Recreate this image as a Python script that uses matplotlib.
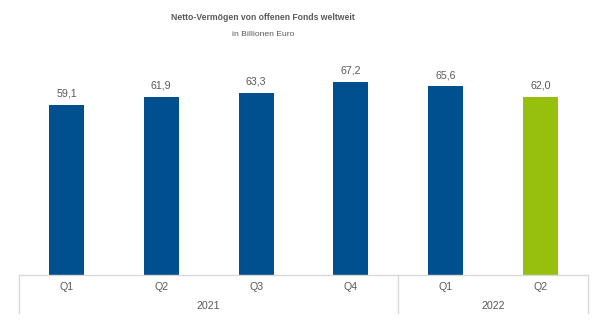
import matplotlib.pyplot as plt

# Data
quarters = ["Q1", "Q2", "Q3", "Q4", "Q1", "Q2"]
years = ["2021", "2022"]
year_spans = [(0, 3), (4, 5)]  # first and last bar index per year
values = [59.1, 61.9, 63.3, 67.2, 65.6, 62.0]
labels = ["59,1", "61,9", "63,3", "67,2", "65,6", "62,0"]

blue = "#00508F"
green = "#97BF0D"
text_col = "#595959"
line_col = "#D9D9D9"
colors = [blue] * 5 + [green]

plt.rcParams['font.family'] = ['Liberation Sans', 'DejaVu Sans']

fig = plt.figure(figsize=(6, 3.31), dpi=100)
W, H = 600, 331
# axes: x from 19 to 588 px, y from 45 (top) to 275 (baseline) px
ax = fig.add_axes([19 / W, (H - 275) / H, (588 - 19) / W, (275 - 45) / H])

x = range(len(values))
ax.bar(x, values, width=0.37, color=colors)
ax.set_xlim(-0.5, 5.5)
ax.set_ylim(0, 80)

for xi, v, lab in zip(x, values, labels):
    ax.text(xi, v + 2.2, lab, ha="center", va="bottom", fontsize=7.7, color=text_col)

# Hide frame except baseline
for s in ["top", "left", "right"]:
    ax.spines[s].set_visible(False)
ax.spines["bottom"].set_color(line_col)
ax.spines["bottom"].set_linewidth(1)
ax.set_xticks([])
ax.set_yticks([])

# Category table below the baseline
tr = ax.get_xaxis_transform()
px = 1 / 230  # one pixel in axes fraction
for xb in [-0.5, 3.5, 5.5]:
    ax.plot([xb, xb], [0, -38 * px], transform=tr, color=line_col, lw=1, clip_on=False)
for xi, q in zip(x, quarters):
    ax.text(xi, -12 * px, q, transform=tr, ha="center", va="center", fontsize=7.7, color=text_col)
for yr, (a, b) in zip(years, year_spans):
    ax.text((a + b) / 2, -31 * px, yr, transform=tr, ha="center", va="center", fontsize=7.7, color=text_col)

# Title
fig.text(263 / W, 1 - 18 / H, "Netto-Vermögen von offenen Fonds weltweit", ha="center", va="center",
         fontsize=6.2, fontweight="bold", color=text_col)
fig.text(263 / W, 1 - 34 / H, "in Billionen Euro", ha="center", va="center", fontsize=6.1, color=text_col)

fig.savefig("out.png", dpi=100)
